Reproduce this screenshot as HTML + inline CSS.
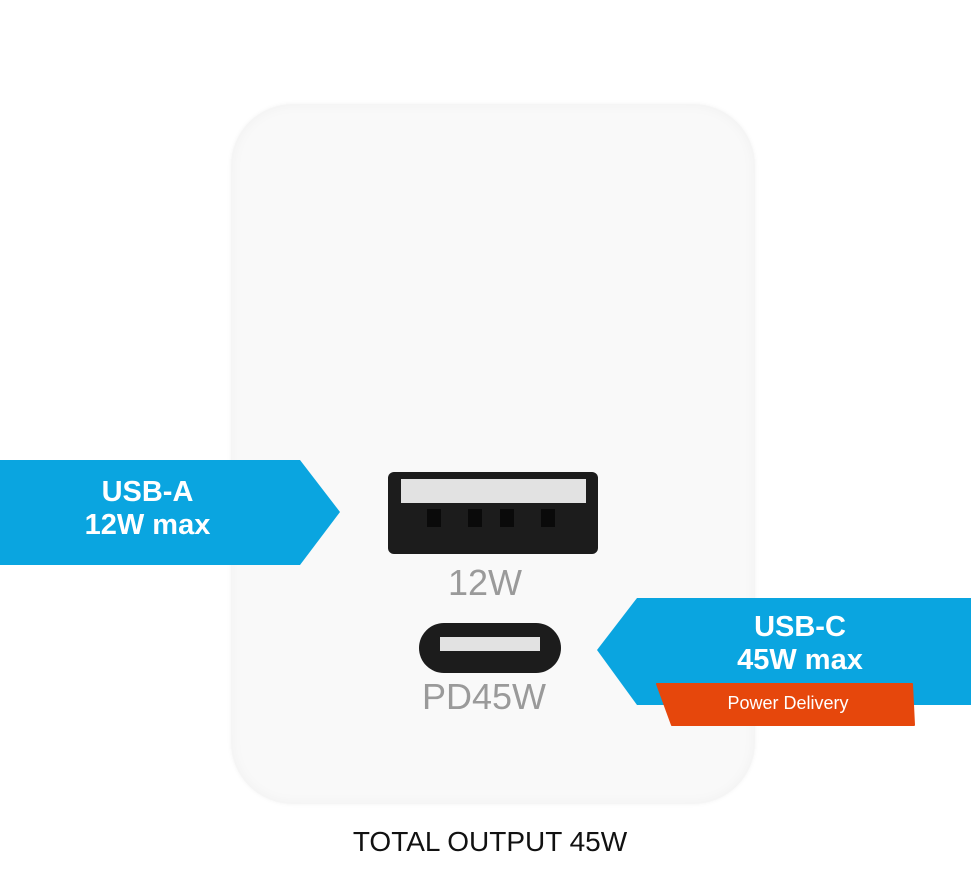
<!DOCTYPE html>
<html><head><style>
body{margin:0;width:971px;height:888px;background:#fff;position:relative;overflow:hidden;font-family:"Liberation Sans",sans-serif}
.body{position:absolute;left:231px;top:104px;width:524px;height:700px;border-radius:62px;background:#f9f9f9;box-shadow:inset 0 0 14px rgba(0,0,0,0.04),0 0 5px rgba(0,0,0,0.05)}
.t{position:absolute;white-space:nowrap}
</style></head><body>
<div class="body"></div>
<div style="position:absolute;left:388px;top:472px;width:210px;height:82px;background:#1c1c1c;border-radius:6px"></div>
<div style="position:absolute;left:401px;top:479px;width:185px;height:24px;background:#e2e2e2"></div>
<div style="position:absolute;left:427px;top:509px;width:14px;height:18px;background:#0a0a0a"></div>
<div style="position:absolute;left:468px;top:509px;width:14px;height:18px;background:#0a0a0a"></div>
<div style="position:absolute;left:500px;top:509px;width:14px;height:18px;background:#0a0a0a"></div>
<div style="position:absolute;left:541px;top:509px;width:14px;height:18px;background:#0a0a0a"></div>
<div class="t" style="left:418px;top:562px;font-size:36px;color:#9a9a9a;width:134px;text-align:center">12W</div>
<div style="position:absolute;left:419px;top:623px;width:142px;height:50px;background:#1c1c1c;border-radius:25px"></div>
<div style="position:absolute;left:440px;top:637px;width:100px;height:14px;background:#e2e2e2"></div>
<div class="t" style="left:404px;top:676px;font-size:36px;color:#9a9a9a;width:160px;text-align:center">PD45W</div>
<svg style="position:absolute;left:0;top:0" width="971" height="888">
<polygon points="0,460 300,460 340,512 300,565 0,565" fill="#0aa5e0"/>
<polygon points="637,598 971,598 971,705 637,705 597,650" fill="#0aa5e0"/>
<polygon points="657,684 912,684 914,725 672,725" fill="#e6470c" stroke="#e6470c" stroke-width="2" stroke-linejoin="round"/>
</svg>
<div class="t" style="left:0;top:476px;width:295px;text-align:center;color:#fff;font-weight:bold;font-size:29px;line-height:33px">USB-A<br>12W max</div>
<div class="t" style="left:640px;top:611px;width:320px;text-align:center;color:#fff;font-weight:bold;font-size:29px;line-height:33px">USB-C<br>45W max</div>
<div class="t" style="left:662px;top:693px;width:252px;text-align:center;color:#fff;font-size:18px">Power Delivery</div>
<div class="t" style="left:290px;top:826px;width:400px;text-align:center;color:#111;font-size:28px">TOTAL OUTPUT 45W</div>
</body></html>
